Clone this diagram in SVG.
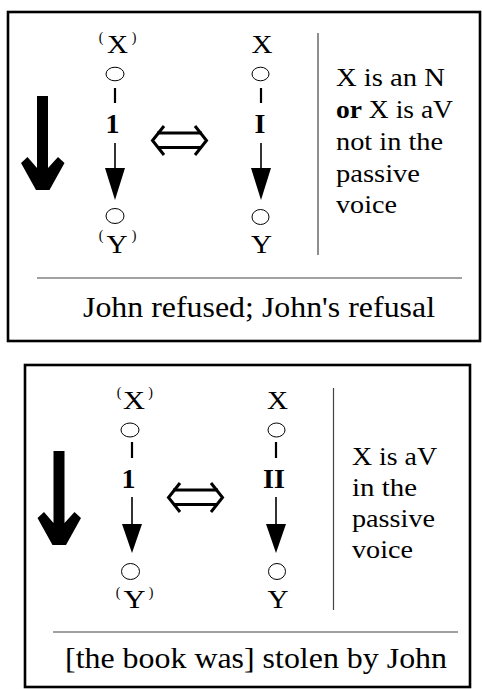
<svg xmlns="http://www.w3.org/2000/svg" width="482" height="689" viewBox="0 0 482 689">
<defs>
<style>
.frame{fill:none;stroke:#000;stroke-width:2.6}
.sep{fill:none;stroke:#444;stroke-width:1.2}
text{font-family:'Liberation Serif','Times New Roman',serif;fill:#000}
.lbl{font-size:25px;text-anchor:middle}
.par{font-size:14px;text-anchor:middle}
.num{font-size:28px;font-weight:bold;text-anchor:middle}
.side{font-size:26px}
.foot{font-size:29px}
.circ{fill:#fff;stroke:#000;stroke-width:1}
.dash{stroke:#000;stroke-width:2.2}
.shaft{stroke:#000;stroke-width:1.6}
.dbl{fill:none;stroke:#000;stroke-width:3}
</style>
</defs>

<!-- Top panel -->
<g id="panel-top">
<rect class="frame" x="8" y="12" width="472" height="329"/>
<g id="top-bigarrow">
<polygon points="37,96 48,96 48,168 58,157 64.5,163 49.5,190 36,190 21,163 27.5,157 37,168" fill="#000"/>
</g>
<g id="top-col1">
<text class="par" x="101" y="42">(</text>
<text class="lbl" x="117.5" y="53" textLength="21" lengthAdjust="spacingAndGlyphs">X</text>
<text class="par" x="134" y="42">)</text>
<ellipse class="circ" cx="115" cy="74" rx="9" ry="6.8"/>
<line class="dash" x1="115" y1="88" x2="115" y2="103"/>
<text class="num" x="112.5" y="133">1</text>
<line class="shaft" x1="115" y1="143" x2="115" y2="170"/>
<polygon points="105,168 125,168 115,200" fill="#000"/>
<ellipse class="circ" cx="115" cy="216" rx="9" ry="7.5"/>
<text class="par" x="101" y="240">(</text>
<text class="lbl" x="117" y="253" textLength="21" lengthAdjust="spacingAndGlyphs">Y</text>
<text class="par" x="134" y="240">)</text>
</g>
<g id="top-equiv">
<line class="dbl" x1="157" y1="133" x2="202" y2="133"/>
<line class="dbl" x1="157" y1="147.5" x2="202" y2="147.5"/>
<polyline class="dbl" points="164,126 152.5,140.5 164,155"/>
<polyline class="dbl" points="195,126 206.5,140.5 195,155"/>
</g>
<g id="top-col2">
<text class="lbl" x="262" y="53" textLength="21" lengthAdjust="spacingAndGlyphs">X</text>
<ellipse class="circ" cx="260.5" cy="74" rx="8.5" ry="6.8"/>
<line class="dash" x1="261" y1="88" x2="261" y2="103"/>
<text class="num" x="260" y="133">I</text>
<line class="shaft" x1="261" y1="143" x2="261" y2="170"/>
<polygon points="251,168 271,168 261,200" fill="#000"/>
<ellipse class="circ" cx="260.5" cy="217" rx="8.5" ry="7.5"/>
<text class="lbl" x="261.5" y="253" textLength="21" lengthAdjust="spacingAndGlyphs">Y</text>
</g>
<line class="sep" x1="318" y1="33" x2="318" y2="255"/>
<g id="top-cond">
<text class="side" x="336" y="86" textLength="109" lengthAdjust="spacingAndGlyphs">X is an N</text>
<text class="side" x="336" y="118" textLength="117" lengthAdjust="spacingAndGlyphs"><tspan font-weight="bold">or</tspan> X is aV</text>
<text class="side" x="336" y="150" textLength="107" lengthAdjust="spacingAndGlyphs">not in the</text>
<text class="side" x="336" y="182" textLength="84" lengthAdjust="spacingAndGlyphs">passive</text>
<text class="side" x="336" y="213" textLength="61" lengthAdjust="spacingAndGlyphs">voice</text>
</g>
<line class="sep" x1="37" y1="278" x2="462" y2="278"/>
<text class="foot" x="83" y="317" textLength="352" lengthAdjust="spacingAndGlyphs">John refused; John's refusal</text>
</g>

<!-- Bottom panel -->
<g id="panel-bottom">
<rect class="frame" x="25" y="365" width="445" height="322"/>
<g id="bot-bigarrow">
<polygon points="53.5,451 64.5,451 64.5,523 74.5,512 81,518 66,545 52.5,545 37.5,518 44,512 53.5,523" fill="#000"/>
</g>
<g id="bot-col1">
<text class="par" x="119" y="397">(</text>
<text class="lbl" x="134" y="409" textLength="22" lengthAdjust="spacingAndGlyphs">X</text>
<text class="par" x="150.5" y="397">)</text>
<ellipse class="circ" cx="130" cy="430" rx="9" ry="7"/>
<line class="dash" x1="132" y1="442" x2="132" y2="458"/>
<text class="num" x="128.5" y="488">1</text>
<line class="shaft" x1="132" y1="497" x2="132" y2="526"/>
<polygon points="122,524 142,524 132,553" fill="#000"/>
<ellipse class="circ" cx="130.5" cy="571.5" rx="9" ry="8"/>
<text class="par" x="118" y="597">(</text>
<text class="lbl" x="134.5" y="608" textLength="22" lengthAdjust="spacingAndGlyphs">Y</text>
<text class="par" x="151" y="597">)</text>
</g>
<g id="bot-equiv">
<line class="dbl" x1="173" y1="490" x2="218" y2="490"/>
<line class="dbl" x1="173" y1="504.5" x2="218" y2="504.5"/>
<polyline class="dbl" points="180,483 168.5,497.5 180,512"/>
<polyline class="dbl" points="211,483 222.5,497.5 211,512"/>
</g>
<g id="bot-col2">
<text class="lbl" x="277.5" y="409" textLength="21" lengthAdjust="spacingAndGlyphs">X</text>
<ellipse class="circ" cx="276.5" cy="430" rx="8.5" ry="7"/>
<line class="dash" x1="276" y1="442" x2="276" y2="458"/>
<text class="num" x="274" y="488">II</text>
<line class="shaft" x1="276" y1="497" x2="276" y2="526"/>
<polygon points="266,524 286,524 276,553" fill="#000"/>
<ellipse class="circ" cx="277" cy="571.5" rx="8.5" ry="8"/>
<text class="lbl" x="278" y="608" textLength="21" lengthAdjust="spacingAndGlyphs">Y</text>
</g>
<line class="sep" x1="333.5" y1="388" x2="333.5" y2="610"/>
<g id="bot-cond">
<text class="side" x="352" y="465" textLength="85" lengthAdjust="spacingAndGlyphs">X is aV</text>
<text class="side" x="352" y="496" textLength="65" lengthAdjust="spacingAndGlyphs">in the</text>
<text class="side" x="352" y="527" textLength="83" lengthAdjust="spacingAndGlyphs">passive</text>
<text class="side" x="352" y="558" textLength="61" lengthAdjust="spacingAndGlyphs">voice</text>
</g>
<line class="sep" x1="53" y1="632" x2="458" y2="632"/>
<text class="foot" x="65" y="668" textLength="382" lengthAdjust="spacingAndGlyphs">[the book was] stolen by John</text>
</g>
</svg>
